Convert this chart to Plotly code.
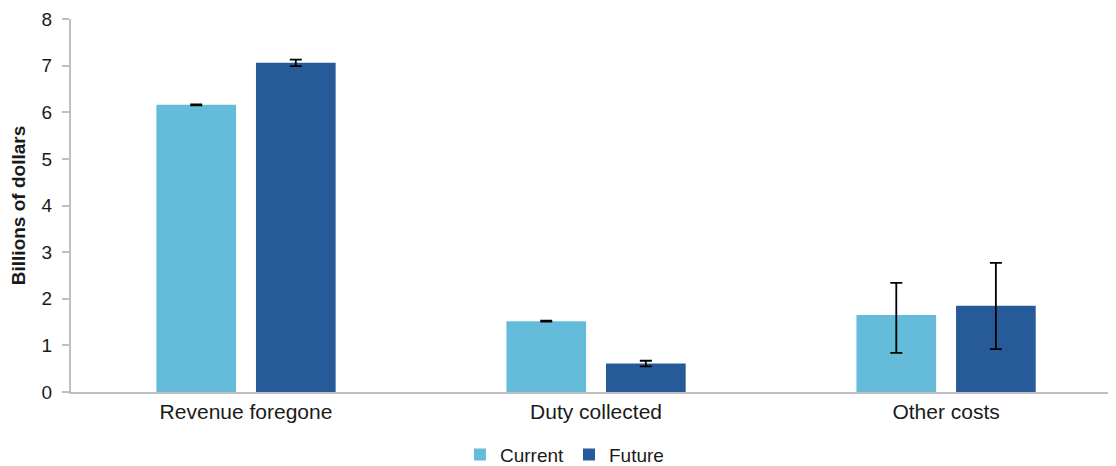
import plotly.graph_objects as go

categories = ["Revenue foregone", "Duty collected", "Other costs"]
current = [6.16, 1.52, 1.65]
current_err_plus = [0.01, 0.01, 0.69]
current_err_minus = [0.01, 0.01, 0.81]
future = [7.06, 0.61, 1.85]
future_err_plus = [0.07, 0.06, 0.92]
future_err_minus = [0.07, 0.06, 0.93]
y_ticks = [0, 1, 2, 3, 4, 5, 6, 7, 8]

fam = "Liberation Sans, Arial, sans-serif"
ytick_font = dict(family=fam, size=19, color="#1a1a1a")
xtick_font = dict(family=fam, size=21, color="#1a1a1a")
title_font = dict(family=fam, size=19, color="#1a1a1a")
legend_font = dict(family=fam, size=19, color="#1a1a1a")

fig = go.Figure()
fig.add_trace(go.Bar(
    name="Current", x=categories, y=current, marker_color="#64bcda",
    marker_line_width=0,
    error_y=dict(type="data", array=current_err_plus, arrayminus=current_err_minus,
                 symmetric=False, color="black", thickness=1.8, width=6),
))
fig.add_trace(go.Bar(
    name="Future", x=categories, y=future, marker_color="#265a98",
    marker_line_width=0,
    error_y=dict(type="data", array=future_err_plus, arrayminus=future_err_minus,
                 symmetric=False, color="black", thickness=1.8, width=6),
))

fig.update_layout(
    width=1108, height=458,
    margin=dict(l=63, r=4, t=11, b=74, autoexpand=False),
    paper_bgcolor="white", plot_bgcolor="white",
    barmode="group", bargap=0.431, bargroupgap=0.2,
    font=ytick_font,
    showlegend=True,
    legend=dict(orientation="h", x=0.474, xanchor="center", y=-0.168, yanchor="middle",
                font=legend_font, itemwidth=30, traceorder="normal"),
)
fig.update_xaxes(
    range=[-0.5, 2.474], showline=True, linecolor="#bfbfbf", linewidth=2,
    ticks="", showgrid=False, tickfont=xtick_font, automargin=False,
)
fig.update_yaxes(
    range=[0, 8], tickvals=y_ticks, showline=True, linecolor="#bfbfbf", linewidth=2,
    ticks="outside", ticklen=7, tickcolor="#bfbfbf", tickwidth=2,
    showgrid=False, zeroline=False, tickfont=ytick_font, automargin=False,
    ticklabelstandoff=6,
    title=dict(text="<b>Billions of dollars</b>", font=title_font, standoff=12),
)

fig.write_html("out.html")
